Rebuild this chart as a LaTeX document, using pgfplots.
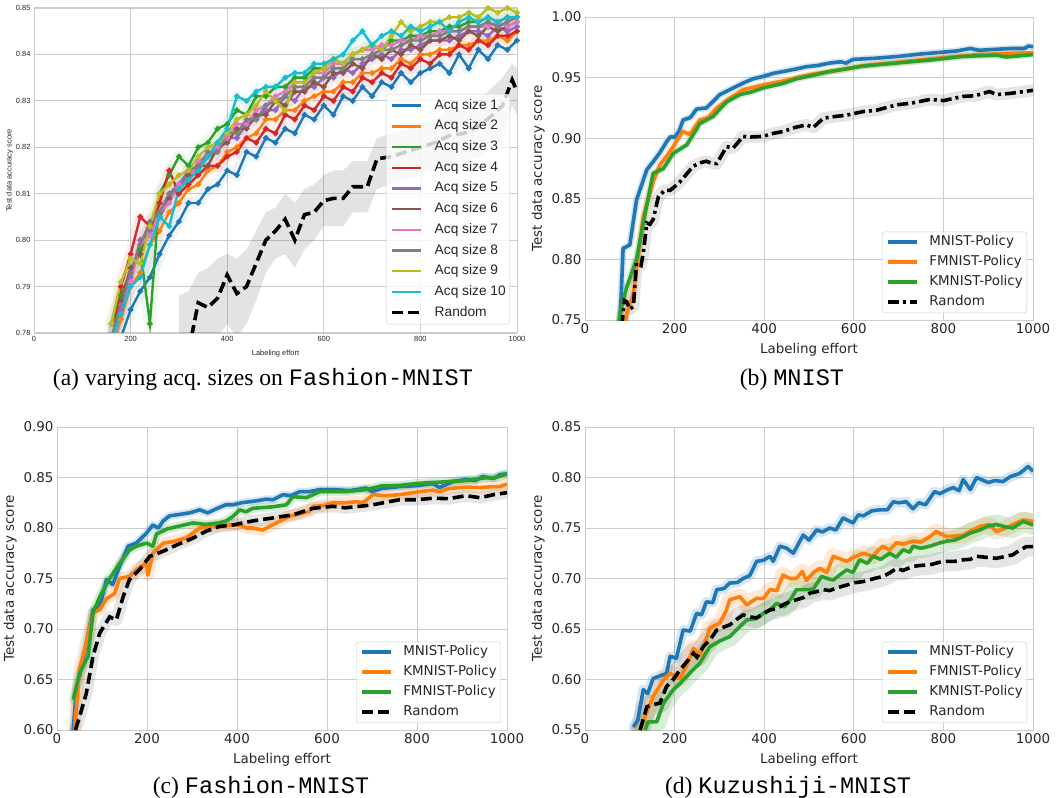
\documentclass[border=0pt]{standalone}
\usepackage{fontspec}
\setmainfont{Liberation Serif}
\setmonofont{Liberation Mono}
\newfontfamily\dvs{DejaVu Sans}
\newfontfamily\arial{Liberation Sans}
\usepackage{pgfplots}
\pgfplotsset{compat=1.18}
\usepackage{pgfplotstable}
\definecolor{tb}{HTML}{1F77B4}
\definecolor{to}{HTML}{FF7F0E}
\definecolor{tg}{HTML}{2CA02C}
\definecolor{tr}{HTML}{D62728}
\definecolor{tp}{HTML}{9467BD}
\definecolor{tbr}{HTML}{8C564B}
\definecolor{tpk}{HTML}{E377C2}
\definecolor{tgy}{HTML}{7F7F7F}
\definecolor{tol}{HTML}{BCBD22}
\definecolor{tc}{HTML}{17BECF}
\definecolor{gridc}{HTML}{CCCCCC}
\definecolor{txt}{HTML}{262626}

% ---------------- Panel (a) data (accuracy in thousandths) ----------------
\pgfplotstableread{
x s1 s2 s3 s4 s5 s6 s7 s8 s9 s10
160 774 776 782 777 779 778 777 779 782 778
180 779 783 788 790 785 787 784 786 791 784
200 785 790 793 797 792 794 791 793 796 790
220 789 793 798 805 800 797 799 799 795 792
240 792 799 782 803 802 803 801 804 803 799
260 797 802 810 808 806 805 806 806 810 805
280 801 806 814 815 810 809 808 810 812 803
300 804 808 818 810 812 811 812 811 814 811
320 808 811 816 812 815 814 813 815 815 813
340 808 812 820 814 815 816 817 816 818 815
360 811 815 821 816 818 816 818 819 820 818
380 812 816 824 816 819 820 820 819 821 821
400 815 819 825 818 822 821 822 823 823 824
420 814 820 828 819 822 824 825 823 826 831
440 819 822 827 822 825 824 825 826 827 830
460 818 823 831 821 826 827 828 826 829 832
480 822 826 831 824 828 827 829 829 832 833
500 821 826 833 823 828 830 831 830 830 833
520 824 828 833 827 831 829 832 831 828 835
540 823 828 835 826 830 832 834 833 834 836
560 827 830 835 829 833 832 834 833 834 836
580 826 831 837 828 833 834 836 835 836 838
600 829 832 837 831 835 833 836 835 837 838
620 827 832 839 830 835 836 838 837 839 839
640 831 834 838 833 837 836 838 837 838 840
660 830 834 840 832 836 838 840 839 840 843
680 833 836 841 835 838 837 841 839 841 845
700 831 836 842 834 839 840 841 840 842 842
720 834 837 841 836 840 839 842 841 841 844
740 833 837 843 835 839 841 842 841 844 845
760 836 839 843 838 841 840 843 842 847 844
780 834 838 844 837 841 842 843 843 845 846
800 836 840 844 839 842 841 844 843 846 845
820 837 840 845 838 843 843 844 844 847 846
840 838 841 845 840 843 843 845 844 847 847
860 836 841 846 840 843 844 845 845 848 845
880 840 842 846 842 844 843 845 845 848 847
900 837 842 847 841 845 845 846 846 849 848
920 841 843 847 843 845 844 846 846 848 847
940 839 843 848 842 844 846 846 847 850 848
960 842 844 847 844 846 845 847 846 849 847
980 841 843 848 844 845 846 846 847 850 848
1000 843 845 848 845 846 847 847 848 849 848
}\aS
\pgfplotstableread{
x y
320 776
340 786.5
360 785.5
380 787.5
400 792.5
420 788.5
440 790
460 795
480 800
500 802
520 804.5
540 800
560 805.5
580 806
600 808.5
620 809
640 809
660 811.5
690 811.5
710 817.5
740 818
770 819
800 820
830 821
860 822.5
890 823
920 824.5
950 827
970 829
990 834.5
1000 832
}\aR
% band outline of Random (upper edge forward, lower edge backward)
\pgfplotstableread{
x y
300 788
320 789
340 793
360 794
380 796
400 797
420 796
440 798
460 802
480 806
500 807
520 810
540 808
560 811
580 812
600 814
620 815
640 815
660 817
690 817
710 822
740 823
770 824
800 825
830 826
860 828
890 828
920 830
950 833
970 835
990 838
1000 837
1000 827
990 829
970 822
950 820
920 818
890 817
860 816
830 815
800 814
770 813
740 812
710 811
690 806
660 806
640 803
620 803
600 803
580 800
560 798
540 794
520 797
500 796
480 793
460 787
440 782
420 779
400 782
380 779
360 777
340 778
320 768
300 765
}\aB

% ---------------- Panel (b) data ----------------
\pgfplotstableread{
x y
78 0.745
85 0.809
100 0.812
115 0.849
138 0.874
155 0.882
167 0.888
182 0.897
190 0.901
201 0.901
210 0.906
219 0.915
235 0.917
249 0.924
271 0.925
285 0.930
301 0.936
323 0.940
353 0.9455
375 0.949
398 0.951
420 0.9535
442 0.955
470 0.957
494 0.959
520 0.960
546 0.962
570 0.963
583 0.962
598 0.965
650 0.966
700 0.9675
750 0.9695
800 0.971
830 0.972
860 0.974
880 0.9725
900 0.973
950 0.974
980 0.974
990 0.976
1000 0.9755
}\bM
\pgfplotstableread{
x y
88 0.745
93 0.755
108 0.772
130 0.835
152 0.864
167 0.878
182 0.885
197 0.893
210 0.901
219 0.9055
234 0.903
256 0.915
275 0.917
294 0.925
323 0.933
353 0.940
398 0.944
440 0.947
472 0.950
510 0.953
546 0.955
580 0.957
621 0.960
695 0.9625
770 0.9655
844 0.968
880 0.969
918 0.9695
950 0.970
1000 0.9705
}\bF
\pgfplotstableread{
x y
75 0.745
78 0.755
93 0.777
115 0.800
130 0.830
152 0.871
175 0.875
197 0.8875
212 0.891
227 0.8945
245 0.905
256 0.912
286 0.918
316 0.930
346 0.936
370 0.938
398 0.9415
440 0.945
472 0.949
510 0.952
546 0.955
580 0.957
621 0.9595
695 0.962
770 0.9645
844 0.9675
918 0.9685
940 0.967
1000 0.969
}\bK
\pgfplotstableread{
x y
82 0.745
88 0.766
93 0.765
100 0.759
108 0.761
115 0.797
125 0.795
130 0.805
138 0.830
145 0.829
152 0.833
164 0.852
178 0.857
190 0.857
200 0.860
212 0.864
228 0.871
242 0.877
260 0.880
271 0.881
285 0.879
294 0.879
316 0.893
331 0.892
353 0.9015
370 0.901
398 0.9015
420 0.904
442 0.9055
470 0.909
494 0.911
510 0.909
532 0.9165
560 0.918
584 0.919
621 0.922
650 0.923
695 0.9275
730 0.929
770 0.932
800 0.931
844 0.9345
870 0.935
903 0.9385
918 0.936
950 0.937
1000 0.9395
}\bR

% ---------------- Panel (c) data ----------------
\pgfplotstableread{
x y
36 0.60
43 0.640
50 0.653
65 0.686
80 0.719
95 0.722
110 0.749
124 0.744
139 0.762
158 0.782
176 0.785
199 0.795
213 0.803
225 0.800
236 0.807
250 0.812
273 0.8135
295 0.815
317 0.818
335 0.815
354 0.819
375 0.823
391 0.823
410 0.825
428 0.826
445 0.827
465 0.8285
480 0.828
502 0.833
520 0.832
539 0.836
560 0.836
584 0.838
613 0.838
650 0.837
687 0.8395
700 0.836
720 0.839
761 0.841
800 0.842
835 0.844
850 0.840
880 0.846
909 0.848
930 0.847
946 0.851
970 0.849
985 0.853
1000 0.8535
}\cM
\pgfplotstableread{
x y
39 0.60
50 0.66
65 0.686
80 0.716
95 0.719
110 0.730
128 0.735
139 0.750
161 0.752
176 0.7585
190 0.763
199 0.765
202 0.7535
213 0.775
236 0.785
258 0.7865
287 0.790
317 0.800
347 0.8015
376 0.803
406 0.803
420 0.800
435 0.800
457 0.798
487 0.805
516 0.8115
540 0.814
561 0.8165
569 0.8215
590 0.822
613 0.825
640 0.825
665 0.826
680 0.825
702 0.833
730 0.832
761 0.833
806 0.836
835 0.8375
850 0.836
870 0.839
909 0.8405
940 0.840
970 0.841
984 0.841
1000 0.8435
}\cK
\pgfplotstableread{
x y
36 0.63
50 0.656
69 0.673
80 0.716
95 0.732
117 0.750
139 0.765
161 0.778
176 0.782
199 0.785
213 0.782
221 0.794
244 0.799
273 0.802
302 0.805
332 0.8035
360 0.805
376 0.807
391 0.8115
406 0.818
420 0.816
435 0.8195
480 0.821
510 0.823
524 0.831
554 0.830
584 0.836
640 0.836
687 0.838
724 0.842
760 0.842
798 0.844
835 0.845
872 0.846
910 0.847
946 0.8495
975 0.850
1000 0.8535
}\cF
\pgfplotstableread{
x y
41 0.60
50 0.613
65 0.636
80 0.673
95 0.696
117 0.712
132 0.709
147 0.732
161 0.749
184 0.759
206 0.772
236 0.777
265 0.783
302 0.790
332 0.797
361 0.8015
391 0.803
435 0.807
480 0.810
524 0.813
569 0.8195
613 0.8215
640 0.820
673 0.8215
702 0.823
761 0.828
800 0.828
835 0.8295
870 0.829
909 0.832
940 0.830
970 0.833
1000 0.835
}\cR

% ---------------- Panel (d) data ----------------
\pgfplotstableread{
x y
108 0.553
118 0.560
130 0.590
140 0.586
152 0.601
182 0.606
190 0.623
204 0.621
219 0.649
235 0.648
249 0.6655
260 0.664
271 0.677
285 0.676
294 0.689
310 0.690
323 0.6955
340 0.696
353 0.700
368 0.703
383 0.717
398 0.718
413 0.722
420 0.717
435 0.732
450 0.730
465 0.725
487 0.743
500 0.738
517 0.748
530 0.746
546 0.750
560 0.748
576 0.760
598 0.755
610 0.763
621 0.762
640 0.767
658 0.768
675 0.768
688 0.776
700 0.775
717 0.776
732 0.769
745 0.775
760 0.773
780 0.786
792 0.784
810 0.788
822 0.790
835 0.787
844 0.798
860 0.788
874 0.800
900 0.795
915 0.797
933 0.796
950 0.801
970 0.804
980 0.8075
989 0.811
1000 0.806
}\dM
\pgfplotstableread{
x y
123 0.55
140 0.570
152 0.583
175 0.5995
190 0.606
212 0.601
228 0.615
242 0.631
256 0.624
268 0.637
279 0.651
301 0.656
315 0.668
323 0.679
346 0.682
361 0.674
383 0.6805
398 0.680
413 0.689
428 0.688
442 0.7035
457 0.700
472 0.700
485 0.707
494 0.698
510 0.706
524 0.710
540 0.706
554 0.722
584 0.717
600 0.721
621 0.725
643 0.722
652 0.727
665 0.732
680 0.728
695 0.7355
710 0.734
732 0.737
750 0.736
770 0.7415
784 0.7465
807 0.7415
825 0.742
844 0.743
860 0.747
881 0.7515
903 0.7535
918 0.7465
935 0.749
955 0.7535
978 0.758
1000 0.7565
}\dF
\pgfplotstableread{
x y
134 0.55
140 0.558
160 0.558
175 0.5765
197 0.590
212 0.596
227 0.603
242 0.610
256 0.616
268 0.625
279 0.6325
300 0.638
323 0.6425
340 0.650
361 0.659
380 0.660
398 0.6655
413 0.669
428 0.6755
445 0.672
460 0.680
472 0.689
490 0.689
502 0.689
510 0.690
528 0.702
541 0.700
554 0.6985
570 0.704
584 0.7085
598 0.706
613 0.7185
630 0.715
643 0.722
660 0.719
680 0.725
695 0.721
710 0.7285
725 0.726
732 0.732
750 0.730
770 0.732
790 0.735
807 0.737
825 0.738
844 0.7415
860 0.745
881 0.748
900 0.752
918 0.7535
940 0.751
955 0.750
978 0.7565
1000 0.753
}\dK
\pgfplotstableread{
x y
123 0.55
138 0.573
150 0.575
167 0.5765
182 0.593
197 0.600
212 0.6095
228 0.618
242 0.626
250 0.622
264 0.6325
280 0.640
294 0.649
310 0.652
323 0.654
340 0.660
353 0.664
368 0.662
383 0.661
398 0.665
413 0.669
428 0.670
442 0.674
457 0.677
472 0.679
487 0.681
502 0.6855
517 0.687
532 0.689
546 0.688
561 0.6905
580 0.693
598 0.6955
621 0.697
650 0.7005
665 0.702
680 0.7055
695 0.710
710 0.708
732 0.712
750 0.713
770 0.7135
790 0.716
807 0.717
825 0.717
844 0.7185
860 0.719
874 0.722
895 0.721
918 0.720
940 0.722
955 0.7235
970 0.728
985 0.7315
1000 0.7315
}\dR

\pgfplotsset{
  ln/.style={line width=3.6bp, line join=round},
  bd/.style={forget plot, line width=#1, draw opacity=0.18, line join=round, line cap=round},
  rnd/.style={black, line width=3.6bp, dash pattern=on 11bp off 5bp},
  rnddot/.style={black, line width=3.6bp, dash pattern=on 11bp off 4bp on 3bp off 4bp},
  panel/.style={scale only axis, width=448bp, height=303bp, at={#1}, anchor=north west,
    xmin=0, xmax=1000,
    axis line style={draw=gridc, line width=1bp},
    grid=major, grid style={draw=gridc, line width=0.9bp},
    major tick length=0pt, tick style={draw=none},
    xtick={0,200,400,600,800,1000}, xticklabels={0,200,400,600,800,1000},
    tick label style={font=\dvs\fontsize{13.5}{16}\selectfont, text=txt},
    label style={font=\dvs\fontsize{13.5}{16}\selectfont, text=txt},
    xlabel={Labeling effort}, ylabel={Test data accuracy score},
    xlabel style={yshift=-3bp},
    legend cell align=left,
    legend style={at={(0.9866,0.0231)}, anchor=south east,
      font=\dvs\fontsize{13.5}{16}\selectfont, text=txt,
      draw=gridc, rounded corners=2.5bp, fill=white, fill opacity=0.8, draw opacity=1, text opacity=1,
      inner xsep=4bp, inner ysep=4bp, row sep=7bp,
      nodes={inner sep=0pt, text height=10bp, text depth=3bp},
      /tikz/every odd column/.append style={column sep=10bp}},
    legend image code/.code={\draw[##1, line width=4bp] (0bp,0bp) -- (29bp,0bp);},
  },
}

\begin{document}
\begin{tikzpicture}
\useasboundingbox (0,0) rectangle (1062bp,-798bp);

% ====================== (a) ======================
\begin{axis}[scale only axis, width=483bp, height=325bp, at={(34bp,-8bp)}, anchor=north west,
  xmin=0, xmax=1000, ymin=780, ymax=850,
  axis line style={draw=gridc, line width=1bp},
  grid=major, grid style={draw=gridc, line width=0.9bp},
  major tick length=0pt, tick style={draw=none},
  xtick={0,200,400,600,800,1000}, xticklabels={0,200,400,600,800,1000},
  ytick={780,790,800,810,820,830,840,850},
  yticklabels={0.78,0.79,0.80,0.81,0.82,0.83,0.84,0.85},
  tick label style={font=\arial\fontsize{7.5}{9}\selectfont, text=txt},
  label style={font=\arial\fontsize{7.5}{9}\selectfont, text=txt},
  xlabel={Labeling effort}, ylabel={Test data accuracy score},
  xlabel style={yshift=-1bp}, ylabel style={yshift=-4bp},
  legend cell align=left,
  legend style={at={(0.9855,0.7354)}, anchor=north east,
    font=\arial\fontsize{13.8}{16}\selectfont, text=txt,
    draw=gridc, rounded corners=2.5bp, fill=white, fill opacity=0.8, draw opacity=1, text opacity=1,
    inner xsep=4bp, inner ysep=5bp, row sep=7.7bp,
    nodes={inner sep=0pt, text height=10bp, text depth=3bp},
    /tikz/every odd column/.append style={column sep=12bp}},
  legend image code/.code={\draw[#1] (0bp,0bp) -- (29bp,0bp);},
  mark size=1.5bp, every mark/.append style={solid}
]
\addplot[bd=12bp, tb, draw opacity=0.07] table[x=x,y=s1]{\aS};
\addplot[bd=12bp, to, draw opacity=0.07] table[x=x,y=s2]{\aS};
\addplot[bd=12bp, tg, draw opacity=0.07] table[x=x,y=s3]{\aS};
\addplot[bd=12bp, tr, draw opacity=0.07] table[x=x,y=s4]{\aS};
\addplot[bd=12bp, tp, draw opacity=0.07] table[x=x,y=s5]{\aS};
\addplot[bd=12bp, tbr, draw opacity=0.07] table[x=x,y=s6]{\aS};
\addplot[bd=12bp, tpk, draw opacity=0.07] table[x=x,y=s7]{\aS};
\addplot[bd=12bp, tgy, draw opacity=0.07] table[x=x,y=s8]{\aS};
\addplot[bd=12bp, tol, draw opacity=0.07] table[x=x,y=s9]{\aS};
\addplot[bd=12bp, tc, draw opacity=0.07] table[x=x,y=s10]{\aS};
\addplot[fill=black, fill opacity=0.11, draw=none, forget plot] table[x=x,y=y]{\aB};
\addplot[tb, line width=2.4bp, mark=*] table[x=x,y=s1]{\aS}; \addlegendentry{Acq size 1}
\addplot[to, line width=2.4bp, mark=*] table[x=x,y=s2]{\aS}; \addlegendentry{Acq size 2}
\addplot[tg, line width=2.4bp, mark=*] table[x=x,y=s3]{\aS}; \addlegendentry{Acq size 3}
\addplot[tr, line width=2.4bp, mark=*] table[x=x,y=s4]{\aS}; \addlegendentry{Acq size 4}
\addplot[tp, line width=2.4bp, mark=*] table[x=x,y=s5]{\aS}; \addlegendentry{Acq size 5}
\addplot[tbr, line width=2.4bp, mark=*] table[x=x,y=s6]{\aS}; \addlegendentry{Acq size 6}
\addplot[tpk, line width=2.4bp, mark=*] table[x=x,y=s7]{\aS}; \addlegendentry{Acq size 7}
\addplot[tgy, line width=2.4bp, mark=*] table[x=x,y=s8]{\aS}; \addlegendentry{Acq size 8}
\addplot[tol, line width=2.4bp, mark=*] table[x=x,y=s9]{\aS}; \addlegendentry{Acq size 9}
\addplot[tc, line width=2.4bp, mark=*] table[x=x,y=s10]{\aS}; \addlegendentry{Acq size 10}
\addplot[rnd] table[x=x,y=y]{\aR}; \addlegendentry{Random}
\end{axis}

% ====================== (b) ======================
\begin{axis}[panel={(585bp,-17bp)}, ymin=0.75, ymax=1.0,
  ytick={0.75,0.8,0.85,0.9,0.95,1.0}, yticklabels={0.75,0.80,0.85,0.90,0.95,1.00}]
\addplot[bd=7bp, tb] table[x=x,y=y]{\bM};
\addplot[bd=7bp, to] table[x=x,y=y]{\bF};
\addplot[bd=7bp, tg] table[x=x,y=y]{\bK};
\addplot[bd=12bp, black, draw opacity=0.1] table[x=x,y=y]{\bR};
\addplot[ln, tb] table[x=x,y=y]{\bM}; \addlegendentry{MNIST-Policy}
\addplot[ln, to] table[x=x,y=y]{\bF}; \addlegendentry{FMNIST-Policy}
\addplot[ln, tg] table[x=x,y=y]{\bK}; \addlegendentry{KMNIST-Policy}
\addplot[rnddot] table[x=x,y=y]{\bR}; \addlegendentry{Random}
\end{axis}

% ====================== (c) ======================
\begin{axis}[panel={(57bp,-427bp)}, width=450bp, ymin=0.6, ymax=0.9,
  ytick={0.6,0.65,0.7,0.75,0.8,0.85,0.9}, yticklabels={0.60,0.65,0.70,0.75,0.80,0.85,0.90}]
\addplot[bd=8bp, tb] table[x=x,y=y]{\cM};
\addplot[bd=12bp, to] table[x=x,y=y]{\cK};
\addplot[bd=9bp, tg] table[x=x,y=y]{\cF};
\addplot[bd=12bp, black, draw opacity=0.1] table[x=x,y=y]{\cR};
\addplot[ln, tb] table[x=x,y=y]{\cM}; \addlegendentry{MNIST-Policy}
\addplot[ln, to] table[x=x,y=y]{\cK}; \addlegendentry{KMNIST-Policy}
\addplot[ln, tg] table[x=x,y=y]{\cF}; \addlegendentry{FMNIST-Policy}
\addplot[rnd] table[x=x,y=y]{\cR}; \addlegendentry{Random}
\end{axis}

% ====================== (d) ======================
\begin{axis}[panel={(585bp,-427bp)}, ymin=0.55, ymax=0.85,
  ytick={0.55,0.6,0.65,0.7,0.75,0.8,0.85}, yticklabels={0.55,0.60,0.65,0.70,0.75,0.80,0.85}]
\addplot[bd=10bp, tb] table[x=x,y=y]{\dM};
\addplot[bd=16bp, to] table[x=x,y=y]{\dF};
\addplot[bd=20bp, tg] table[x=x,y=y]{\dK};
\addplot[bd=20bp, black, draw opacity=0.1] table[x=x,y=y]{\dR};
\addplot[ln, tb] table[x=x,y=y]{\dM}; \addlegendentry{MNIST-Policy}
\addplot[ln, to] table[x=x,y=y]{\dF}; \addlegendentry{FMNIST-Policy}
\addplot[ln, tg] table[x=x,y=y]{\dK}; \addlegendentry{KMNIST-Policy}
\addplot[rnd] table[x=x,y=y]{\dR}; \addlegendentry{Random}
\end{axis}

% ====================== captions ======================
\node[anchor=base, font=\fontsize{23.7}{27}\selectfont, inner sep=0pt] at (263bp,-385bp) {(a) varying acq.\ sizes on \texttt{Fashion-MNIST}};
\node[anchor=base, font=\fontsize{23.7}{27}\selectfont, inner sep=0pt] at (792bp,-385bp) {(b) \texttt{MNIST}};
\node[anchor=base, font=\fontsize{23.7}{27}\selectfont, inner sep=0pt] at (261bp,-793bp) {(c) \texttt{Fashion-MNIST}};
\node[anchor=base, font=\fontsize{23.7}{27}\selectfont, inner sep=0pt] at (788bp,-793bp) {(d) \texttt{Kuzushiji-MNIST}};
\end{tikzpicture}
\end{document}
